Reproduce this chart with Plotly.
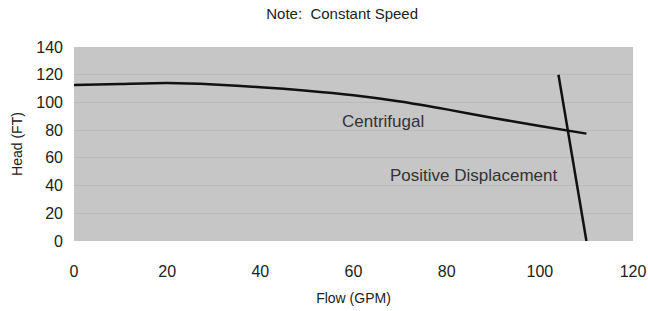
import plotly.graph_objects as go

# Centrifugal pump curve (Flow GPM vs Head FT)
centrifugal_flow = [0, 10, 20, 30, 40, 50, 60, 70, 80, 90, 100, 110]
centrifugal_head = [112.5, 113.3, 114, 113, 111, 108.5, 105.2, 100.7, 95, 88.8, 83, 77.5]

# Positive displacement pump curve
pd_flow = [104, 110]
pd_head = [120, 0]

x_ticks = [0, 20, 40, 60, 80, 100, 120]
y_ticks = [0, 20, 40, 60, 80, 100, 120, 140]

FONT = "Liberation Sans, Arial, sans-serif"

fig = go.Figure()
fig.add_trace(go.Scatter(x=centrifugal_flow, y=centrifugal_head, mode="lines",
                         line=dict(color="#111111", width=2.5, shape="spline", smoothing=0.6),
                         showlegend=False, hoverinfo="skip"))
fig.add_trace(go.Scatter(x=pd_flow, y=pd_head, mode="lines",
                         line=dict(color="#111111", width=2.5),
                         showlegend=False, hoverinfo="skip"))

fig.add_annotation(x=66.3, y=86, text="Centrifugal", showarrow=False,
                   font=dict(family=FONT, size=17, color="#333333"))
fig.add_annotation(x=85.8, y=47.6, text="Positive Displacement", showarrow=False,
                   font=dict(family=FONT, size=17, color="#333333"))

fig.update_layout(
    width=648, height=311,
    margin=dict(l=74, r=15, t=47, b=70),
    paper_bgcolor="white",
    plot_bgcolor="#c6c6c6",
    title=dict(text="Note:\u00a0\u00a0Constant Speed", x=0.528, xanchor="center",
               y=1 - 14 / 311, yanchor="middle",
               font=dict(family=FONT, size=15, color="#222222")),
    font=dict(family=FONT, color="#222222"),
)
fig.update_xaxes(range=[0, 120], tickvals=x_ticks, ticktext=[str(v) for v in x_ticks],
                 showgrid=False, zeroline=False, showline=False, ticks="",
                 automargin=False,
                 tickfont=dict(size=16, color="#222222"), ticklabelstandoff=19,
                 title=dict(text="Flow (GPM)", font=dict(size=14), standoff=14))
fig.update_yaxes(range=[0, 140], tickvals=y_ticks, ticktext=[str(v) for v in y_ticks],
                 showgrid=True, gridcolor="#bababa", gridwidth=1, zeroline=False,
                 showline=False, ticks="", automargin=False,
                 tickfont=dict(size=16, color="#222222"), ticklabelstandoff=10,
                 title=dict(text="Head (FT)", font=dict(size=14), standoff=10))

fig.write_html("out.html", config={"displayModeBar": False},
               post_script="document.body.style.margin='0';document.body.style.padding='0';")
